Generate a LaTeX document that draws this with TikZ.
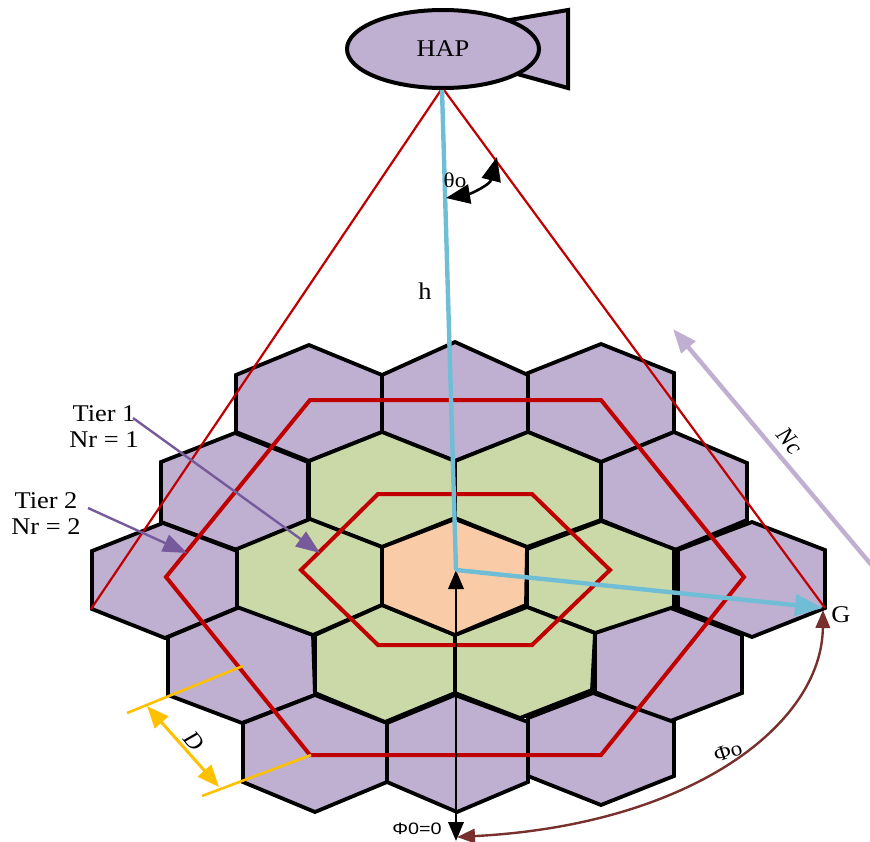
\documentclass[tikz,border=0pt]{standalone}
\usepackage{fontspec}
\setmainfont{Liberation Serif}
\setsansfont{Liberation Sans}
\newfontfamily\widefont[FakeStretch=1.1]{Liberation Serif}
\newfontfamily\widesans[FakeStretch=1.2]{Liberation Sans}
\usetikzlibrary{arrows.meta,shapes.geometric,positioning,calc}
\definecolor{cellPurple}{RGB}{191,175,209}
\definecolor{cellGreen}{RGB}{203,217,168}
\definecolor{cellOrange}{RGB}{250,203,167}
\definecolor{tierRed}{RGB}{192,0,0}
\definecolor{rayBlue}{RGB}{112,190,214}
\definecolor{dimAmber}{RGB}{255,192,0}
\definecolor{tierArrow}{RGB}{118,90,155}
\definecolor{arcBrown}{RGB}{120,48,44}

\begin{document}
\begin{tikzpicture}[x=1pt,y=-1pt,
  cell/.style={draw=black,line width=3.8pt,line join=miter},
  tcell/.style={cell,fill=cellPurple},
  gcell/.style={cell,fill=cellGreen},
  ocell/.style={cell,fill=cellOrange},
  ring/.style={draw=tierRed,line width=4pt,line join=miter},
  ray/.style={draw=tierRed,line width=2.2pt},
  lab/.style={font=\widefont\fontsize{24}{26}\selectfont,align=center,inner sep=0pt},
  small/.style={font=\widefont\fontsize{21}{23}\selectfont,inner sep=0pt},
  tip/.style={-{Stealth[length=#1,width=0.75*#1,inset=0pt]}},
  tips/.style={{Stealth[length=#1,width=0.8*#1,inset=0pt]}-{Stealth[length=#1,width=0.8*#1,inset=0pt]}}
]
  \useasboundingbox (0,0) rectangle (870,841);

  % outer tier
  \draw[tcell] (236,375)--(309,345)--(382,375)--(382,432)--(309,461)--(236,432)--cycle;
  \draw[tcell] (382,375)--(455,342)--(528,375)--(528,432)--(455,461)--(382,432)--cycle;
  \draw[tcell] (528,373)--(601,344)--(674,373)--(674,432)--(601,462)--(528,432)--cycle;
  \draw[tcell] (161,462)--(235,433)--(308,462)--(308,520)--(237,550)--(161,522)--cycle;
  \draw[tcell] (601,462)--(674,432)--(747,463)--(747,520)--(675,550)--(601,520)--cycle;
  \draw[tcell] (92,551)--(163,523)--(237,551)--(237,608)--(165,638)--(92,609)--cycle;
  \draw[tcell] (678,550)--(752,522)--(825,550)--(825,608)--(752,637)--(678,608)--cycle;
  \draw[tcell] (168,637)--(240,607)--(313,635)--(315,695)--(242,723)--(168,695)--cycle;
  \draw[tcell] (595,633)--(668,607)--(742,635)--(742,693)--(668,722)--(595,692)--cycle;
  \draw[tcell] (243,723)--(315,695)--(387,723)--(387,782)--(315,812)--(243,782)--cycle;
  \draw[tcell] (387,723)--(455,695)--(528,722)--(528,782)--(457,812)--(387,782)--cycle;
  \draw[tcell] (528,718)--(593,693)--(674,722)--(674,776)--(601,805)--(528,776)--cycle;
  % inner tier
  \draw[gcell] (309,461)--(382,432)--(455,461)--(455,518)--(382,547)--(309,519)--cycle;
  \draw[gcell] (455,461)--(528,432)--(601,462)--(601,520)--(527,547)--(455,518)--cycle;
  \draw[gcell] (237,549)--(310,519)--(382,547)--(382,605)--(313,635)--(237,607)--cycle;
  \draw[gcell] (527,549)--(601,521)--(674,549)--(674,607)--(595,633)--(527,607)--cycle;
  \draw[gcell] (315,635)--(382,605)--(455,635)--(455,693)--(385,722)--(315,693)--cycle;
  \draw[gcell] (455,635)--(527,607)--(595,633)--(592,690)--(520,718)--(455,693)--cycle;
  \draw[ocell] (382,547)--(455,519)--(527,547)--(526,605)--(455,635)--(382,605)--cycle;

  % tier outlines
  \draw[ring] (378,494)--(532,494)--(610,570)--(532,645)--(378,645)--(301,570)--cycle;
  \draw[ring] (310,400)--(601,400)--(744,577)--(601,755)--(310,755)--(166,577)--cycle;

  % platform
  \draw[line width=4pt,fill=cellPurple,line join=miter] (510,20)--(568,10)--(568,88)--(510,72)--cycle;
  \node[ellipse,draw=black,fill=cellPurple,line width=4pt,minimum width=192pt,minimum height=78pt,
        font=\widefont\fontsize{24}{26}\selectfont](hap) at (443,49) {HAP};

  \coordinate (edgeL) at (91,609);
  \coordinate (edgeR) at (825,608);
  \coordinate (cen)   at (456,570);
  \coordinate (low)   at (456,841);
  \draw[ray] (441,90)--(edgeL);
  \draw[ray] (444,90)--(edgeR);

  \draw[tips=19pt,line width=2.8pt] (cen)--(low);
  \draw[rayBlue,line width=4.4pt,line join=round] (442,90)--(cen);
  \draw[rayBlue,line width=4.4pt,tip=28pt] (cen)--(823,608);

  % angles
  \coordinate (thA) at (497,157);
  \coordinate (thB) at (446,198);
  \draw[tips=24pt,line width=2.6pt] (thA) .. controls (490,185) and (470,194) .. (thB);
  \node[small] (theta) at (455,180) {θo};
  \node[lab] (hgt) at (425,291) {h};
  \node[lab] (gnd) at (841,615) {G};

  \coordinate (phA) at (823,610);
  \coordinate (phB) at (457,837);
  \draw[tips=18pt,arcBrown,line width=2.4pt] (phA) .. controls (822,725) and (690,825) .. (phB);
  \node[small,rotate=18] (phiO) at (728,752) {Φo};
  \node[font=\widesans\fontsize{16.5}{18}\selectfont,inner sep=0pt] (phiZ) at (417,829) {Φ0=0};

  % cell spacing
  \draw[dimAmber,line width=2.6pt] (127,713)--(243,666);
  \draw[dimAmber,line width=2.6pt] (202,796)--(311,755);
  \coordinate (dA) at (147,706);
  \coordinate (dB) at (219,787);
  \draw[tips=22pt,dimAmber,line width=3pt] (dA)--(dB);
  \node[rotate=-50,inner sep=0pt,font=\itshape\fontsize{24}{26}\selectfont] (dlab) at (194,741) {D};

  \coordinate (ncA) at (874,568);
  \coordinate (ncB) at (673,329);
  \draw[tip=24pt,cellPurple,line width=4.4pt] (ncA)--(ncB);
  \node[rotate=-50,inner sep=0pt,font=\itshape\fontsize{24}{26}\selectfont] (nclab) at (790,441) {Nc};

  % tier labels
  \node[lab] (tone) at (104,427) {Tier 1\\Nr = 1};
  \node[lab] (ttwo) at (46,514) {Tier 2\\Nr = 2};
  \coordinate (oneS) at (133,418);
  \coordinate (oneE) at (320,553);
  \coordinate (twoS) at (88,508);
  \coordinate (twoE) at (187,553);
  \draw[tip=24pt,tierArrow,line width=2.4pt] (oneS)--(oneE);
  \draw[tip=24pt,tierArrow,line width=2.4pt] (twoS)--(twoE);
\end{tikzpicture}
\end{document}
